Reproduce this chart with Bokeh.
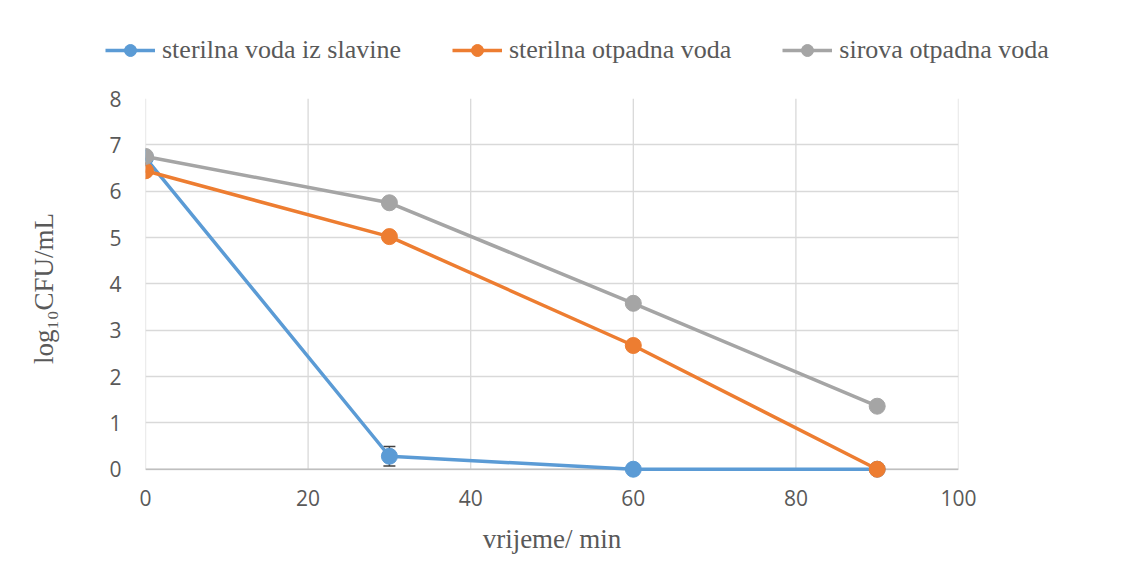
from bokeh.plotting import figure
from bokeh.models import ColumnDataSource, Whisker, Legend, LegendItem, FixedTicker, TeeHead
from bokeh.layouts import column
from bokeh.embed import file_html
from bokeh.resources import INLINE

# ---- data ----
time_min = [0, 30, 60, 90]
tap_water = [6.72, 0.28, 0.0, 0.0]          # sterilna voda iz slavine
tap_err = [0.0, 0.21, 0.0, 0.0]
sterile_ww = [6.44, 5.02, 2.67, 0.0]        # sterilna otpadna voda
sterile_err = [0.0, 0.05, 0.0, 0.0]
raw_ww = [6.75, 5.75, 3.58, 1.36]           # sirova otpadna voda
raw_err = [0.0, 0.0, 0.0, 0.0]
series_names = ["sterilna voda iz slavine", "sterilna otpadna voda", "sirova otpadna voda"]
series_colors = ["#5B9BD5", "#ED7D31", "#A5A5A5"]
x_ticks = [0, 20, 40, 60, 80, 100]
y_ticks = [0, 1, 2, 3, 4, 5, 6, 7, 8]

LEG_H = 75

# ---------- main chart ----------
p = figure(width=1130, height=574 - LEG_H, output_backend="svg", toolbar_location=None,
           x_range=(0, 100), y_range=(-0.2, 8),
           min_border_left=145, min_border_right=172, min_border_top=98 - LEG_H, min_border_bottom=96)
p.frame_align = False
p.outline_line_color = None
p.background_fill_color = "white"
p.border_fill_color = "white"

p.xaxis.ticker = FixedTicker(ticks=x_ticks)
p.yaxis.ticker = FixedTicker(ticks=y_ticks)
for ax in (p.xaxis[0], p.yaxis[0]):
    ax.major_tick_line_color = None
    ax.minor_tick_line_color = None
    ax.axis_line_color = None
    ax.major_label_text_font = "Open Sans"
    ax.major_label_text_font_size = "21px"
    ax.major_label_text_color = "#595959"
    ax.axis_label_text_font = "Liberation Serif"
    ax.axis_label_text_font_size = "27px"
    ax.axis_label_text_font_style = "normal"
    ax.axis_label_text_color = "#595959"
p.xaxis.major_label_standoff = 5
p.yaxis.major_label_standoff = 18
p.xaxis.axis_label = "vrijeme/ min"
p.yaxis.axis_label = "log\u2081\u2080CFU/mL"
p.xaxis.axis_label_standoff = 15
p.yaxis.axis_label_standoff = 47

# grid: horizontal via grid, vertical drawn from 0 to 8 only
p.xgrid.grid_line_color = None
p.ygrid.grid_line_color = "#d9d9d9"
p.ygrid.grid_line_width = 1.3
p.segment(x0=x_ticks, y0=[y_ticks[0]] * len(x_ticks), x1=x_ticks, y1=[y_ticks[-1]] * len(x_ticks),
          line_color="#d9d9d9", line_width=1.3)
# horizontal (category) axis line at y = 0
p.segment(x0=[x_ticks[0]], y0=[0], x1=[x_ticks[-1]], y1=[0], line_color="#bfbfbf", line_width=1.3)

for name, ys, errs, col in zip(series_names, [tap_water, sterile_ww, raw_ww],
                                [tap_err, sterile_err, raw_err], series_colors):
    src = ColumnDataSource(dict(x=time_min, y=ys))
    p.line("x", "y", source=src, line_color=col, line_width=3.5)
    if any(e > 0 for e in errs):
        esrc = ColumnDataSource(dict(x=[t for t, e in zip(time_min, errs) if e > 0],
                                     lo=[a - b for a, b in zip(ys, errs) if b > 0],
                                     hi=[a + b for a, b in zip(ys, errs) if b > 0]))
        w = Whisker(base="x", lower="lo", upper="hi", source=esrc,
                    line_color="#404040", line_width=1.5,
                    upper_head=TeeHead(size=12, line_color="#404040", line_width=1.5),
                    lower_head=TeeHead(size=12, line_color="#404040", line_width=1.5))
        p.add_layout(w)
    p.scatter("x", "y", source=src, size=16, fill_color=col, line_color=col)

# ---------- legend strip ----------
lg = figure(width=1130, height=LEG_H, output_backend="svg", toolbar_location=None,
            x_axis_type=None, y_axis_type=None, x_range=(0, 1), y_range=(0, 1),
            min_border=0, min_border_left=0, min_border_right=0, min_border_top=0, min_border_bottom=0)
lg.frame_align = False
lg.outline_line_color = None
lg.xgrid.grid_line_color = None
lg.ygrid.grid_line_color = None
items = []
for name, col in zip(series_names, series_colors):
    # proxy glyphs placed outside the visible range, only used to draw legend swatches
    proxy = ColumnDataSource(dict(x=[5], y=[5]))
    ln = lg.line("x", "y", source=proxy, line_color=col, line_width=3.5)
    sc = lg.scatter("x", "y", source=proxy, size=16, fill_color=col, line_color=col)
    items.append(LegendItem(label=name, renderers=[ln, sc]))
legend = Legend(items=items, orientation="horizontal", location=(105, 10),
                label_text_font="Liberation Serif", label_text_font_size="26px",
                label_text_color="#595959", glyph_width=50, glyph_height=30,
                label_height=30, label_standoff=7, spacing=51, padding=0, margin=0,
                border_line_color=None, background_fill_alpha=0)
lg.add_layout(legend, "center")

layout = column(lg, p, spacing=0)
open("out.html", "w").write(file_html(layout, INLINE))
